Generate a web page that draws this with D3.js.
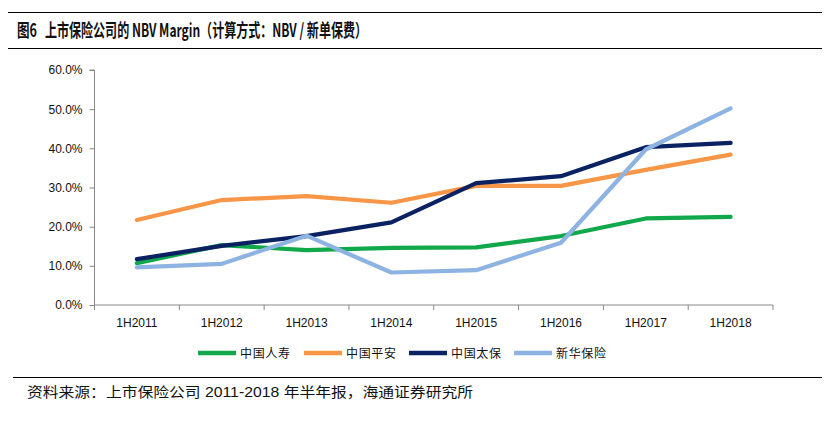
<!DOCTYPE html>
<html><head><meta charset="utf-8">
<script src="https://cdn.jsdelivr.net/npm/d3@7"></script>
<style>body{margin:0;background:#fff}svg{display:block}</style>
</head><body>
<svg id="c" width="830" height="423"></svg>
<script>
const categories = ["1H2011","1H2012","1H2013","1H2014","1H2015","1H2016","1H2017","1H2018"];
const seriesNames = ["中国人寿","中国平安","中国太保","新华保险"];
const chinaLife = [10.7, 15.3, 14.0, 14.6, 14.7, 17.6, 22.1, 22.5];
const pingAn = [21.7, 26.8, 27.8, 26.1, 30.4, 30.4, 34.5, 38.4];
const cpic = [11.7, 15.1, 17.6, 21.1, 31.1, 32.9, 40.3, 41.4];
const newChina = [9.6, 10.5, 17.7, 8.3, 8.9, 15.9, 39.7, 50.2];
const yTicks = [0, 10, 20, 30, 40, 50, 60];
const colors = ["#10a84a", "#f79646", "#0b2262", "#8db3e2"];
const titleNum = "图6";
const title = "上市保险公司的 NBV Margin（计算方式：NBV / 新单保费）";
const source = "资料来源：上市保险公司 2011-2018 年半年报，海通证券研究所";

const svg = d3.select("#c");
const L = 94.5, R = 773, T = 70, B = 305;
const x = d3.scaleBand().domain(categories).range([L, R]);
const y = d3.scaleLinear().domain([0, 60]).range([B, T]);

// title rules
svg.append("line").attr("x1",8).attr("x2",822).attr("y1",12.5).attr("y2",12.5).attr("stroke","#000").attr("stroke-width",1.2);
svg.append("line").attr("x1",8).attr("x2",822).attr("y1",48.5).attr("y2",48.5).attr("stroke","#000").attr("stroke-width",1.2);
const tf = "'Liberation Sans Narrow','Noto Sans CJK SC',sans-serif";
svg.append("text").attr("x",17).attr("y",37).attr("font-family",tf)
  .attr("font-size",18).attr("font-weight","bold").attr("fill","#111")
  .attr("textLength",20).attr("lengthAdjust","spacingAndGlyphs").text(titleNum);
svg.append("text").attr("x",45).attr("y",37).attr("font-family",tf)
  .attr("font-size",18).attr("font-weight","bold").attr("fill","#111")
  .attr("textLength",322).attr("lengthAdjust","spacingAndGlyphs").text(title);

// y axis
const ya = svg.append("g").attr("transform",`translate(${L},0)`)
  .call(d3.axisLeft(y).tickValues(yTicks).tickSize(5).tickFormat(d => d.toFixed(1)+"%"));
ya.select(".domain").attr("stroke","#888").attr("d",`M-5,${T}H0V${B}`);
ya.selectAll(".tick line").attr("stroke","#888");
ya.selectAll(".tick text").attr("font-family","'Liberation Sans',Arial,sans-serif").attr("font-size",12).attr("fill","#111").attr("x",-12);

// x axis
const xa = svg.append("g").attr("transform",`translate(0,${B})`)
  .call(d3.axisBottom(x).tickSize(0).tickPadding(13));
xa.select(".domain").attr("stroke","#888").attr("d",`M${L},0H${R}`);
xa.selectAll(".tick text").attr("font-family","'Liberation Sans',Arial,sans-serif").attr("font-size",12).attr("fill","#111");
const bounds = categories.map(c => x(c)).concat([R]);
xa.selectAll(".sep").data(bounds).enter().append("line")
  .attr("x1",d=>d).attr("x2",d=>d).attr("y1",0).attr("y2",5).attr("stroke","#888");

// lines
const allSeries = [chinaLife, pingAn, cpic, newChina];
const line = d3.line().x((d,i) => x(categories[i]) + x.bandwidth()/2).y(d => y(d));
allSeries.forEach((s,i) => {
  svg.append("path").datum(s).attr("d", line).attr("fill","none")
    .attr("stroke", colors[i]).attr("stroke-width",4.2).attr("stroke-linejoin","round").attr("stroke-linecap","round");
});

// legend
const legX = [198, 304, 409, 514];
seriesNames.forEach((n,i) => {
  const g = svg.append("g").attr("transform",`translate(${legX[i]},353)`);
  g.append("line").attr("x1",0).attr("x2",38).attr("stroke",colors[i]).attr("stroke-width",4.5);
  g.append("text").attr("x",42).attr("y",4.5).attr("font-family","'Noto Sans CJK SC',sans-serif")
    .attr("font-size",12).attr("fill","#111").attr("textLength",50).attr("lengthAdjust","spacing").text(n);
});

// source
svg.append("line").attr("x1",13).attr("x2",822).attr("y1",377.5).attr("y2",377.5).attr("stroke","#000").attr("stroke-width",1.2);
svg.append("text").attr("x",27).attr("y",397).attr("font-family","'Liberation Sans','Noto Sans CJK SC',sans-serif")
  .attr("font-size",14).attr("fill","#111").attr("textLength",446).attr("lengthAdjust","spacingAndGlyphs").text(source);
</script>
</body></html>
